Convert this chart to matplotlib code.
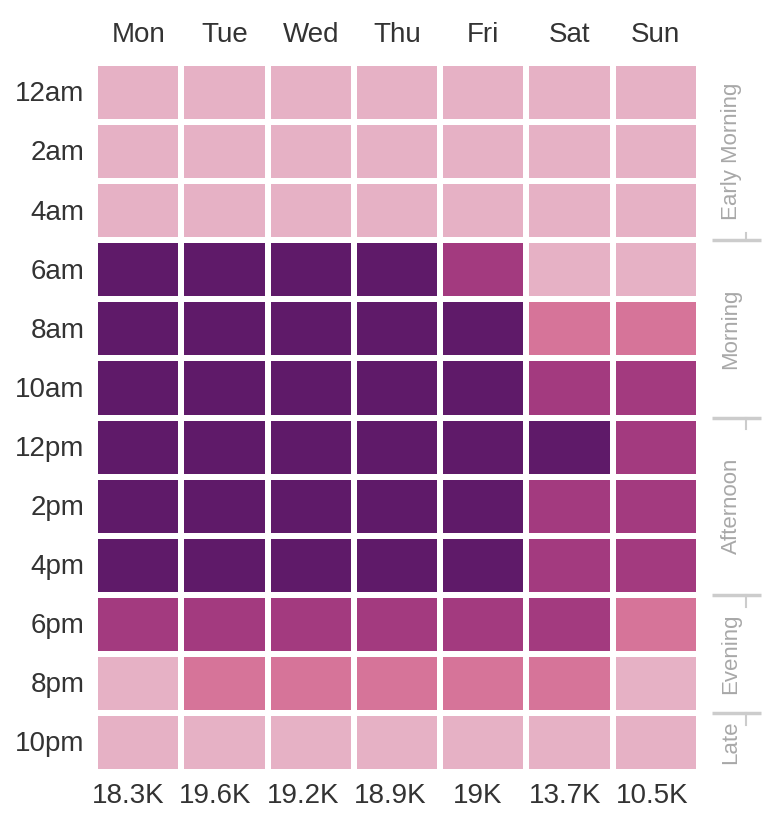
import numpy as np
import matplotlib
matplotlib.use('Agg')
import matplotlib.pyplot as plt
from matplotlib.colors import ListedColormap, BoundaryNorm
from matplotlib.transforms import blended_transform_factory

plt.rcParams['font.family'] = ['Liberation Sans', 'DejaVu Sans']

# data
days = ['Mon', 'Tue', 'Wed', 'Thu', 'Fri', 'Sat', 'Sun']
hours = ['12am', '2am', '4am', '6am', '8am', '10am',
         '12pm', '2pm', '4pm', '6pm', '8pm', '10pm']
totals = ['18.3K', '19.6K', '19.2K', '18.9K', '19K', '13.7K', '10.5K']
# activity level per cell (0 = low ... 3 = high)
levels = [
    [0, 0, 0, 0, 0, 0, 0],
    [0, 0, 0, 0, 0, 0, 0],
    [0, 0, 0, 0, 0, 0, 0],
    [3, 3, 3, 3, 2, 0, 0],
    [3, 3, 3, 3, 3, 1, 1],
    [3, 3, 3, 3, 3, 2, 2],
    [3, 3, 3, 3, 3, 3, 2],
    [3, 3, 3, 3, 3, 2, 2],
    [3, 3, 3, 3, 3, 2, 2],
    [2, 2, 2, 2, 2, 2, 1],
    [0, 1, 1, 1, 1, 1, 0],
    [0, 0, 0, 0, 0, 0, 0],
]
groups = ['Early Morning', 'Morning', 'Afternoon', 'Evening', 'Late']
group_bounds = [0, 3, 6, 9, 11, 12]

colors = ['#e6b1c5', '#d67499', '#a33a7f', '#5f1a69']
cmap = ListedColormap(colors)
norm = BoundaryNorm([-0.5, 0.5, 1.5, 2.5, 3.5], cmap.N)

fig = plt.figure(figsize=(7.67, 8.14), dpi=100)
ax = fig.add_axes([95 / 767, 1 - 772 / 814, 604 / 767, 709 / 814])

data = np.array(levels)
ax.pcolormesh(np.arange(len(days) + 1), np.arange(len(hours) + 1), data,
              cmap=cmap, norm=norm, edgecolor='white', linewidth=3)
ax.set_xlim(0, len(days))
ax.set_ylim(len(hours), 0)
for s in ax.spines.values():
    s.set_visible(False)
ax.set_xticks([])
ax.set_yticks([])

txt_col = '#333333'
fs = 20
for i, d in enumerate(days):
    ax.text(i + 0.5, -0.36, d, ha='center', va='baseline', fontsize=fs, color=txt_col)

# totals row sits on its own slightly wider spacing
tr_tot = blended_transform_factory(fig.transFigure, ax.transData)
tot_x = np.linspace(128, 652, len(totals)) / 767
for x, t in zip(tot_x, totals):
    ax.text(x, len(hours) + 0.52, t, transform=tr_tot, ha='center', va='baseline',
            fontsize=fs, color=txt_col)
for j, h in enumerate(hours):
    ax.text(-0.12, j + 0.65, h, ha='right', va='baseline', fontsize=fs, color=txt_col)

# group labels on the right
tr = blended_transform_factory(fig.transFigure, ax.transData)
for k, g in enumerate(groups):
    mid = (group_bounds[k] + group_bounds[k + 1]) / 2
    ax.text(731 / 767, mid, g, transform=tr, rotation=90, ha='center', va='center',
            fontsize=16, color='#a8a8a8')
for b in group_bounds[1:-1]:
    ax.plot([712 / 767, 761 / 767], [b, b], transform=tr, color='#cccccc', lw=2.5,
            clip_on=False, solid_capstyle='butt')
    dy = -0.12 if b == 3 else 0.2
    ax.plot([746 / 767, 746 / 767], [b, b + dy], transform=tr, color='#cccccc', lw=1.5,
            clip_on=False)

fig.savefig('out.png', dpi=100)
